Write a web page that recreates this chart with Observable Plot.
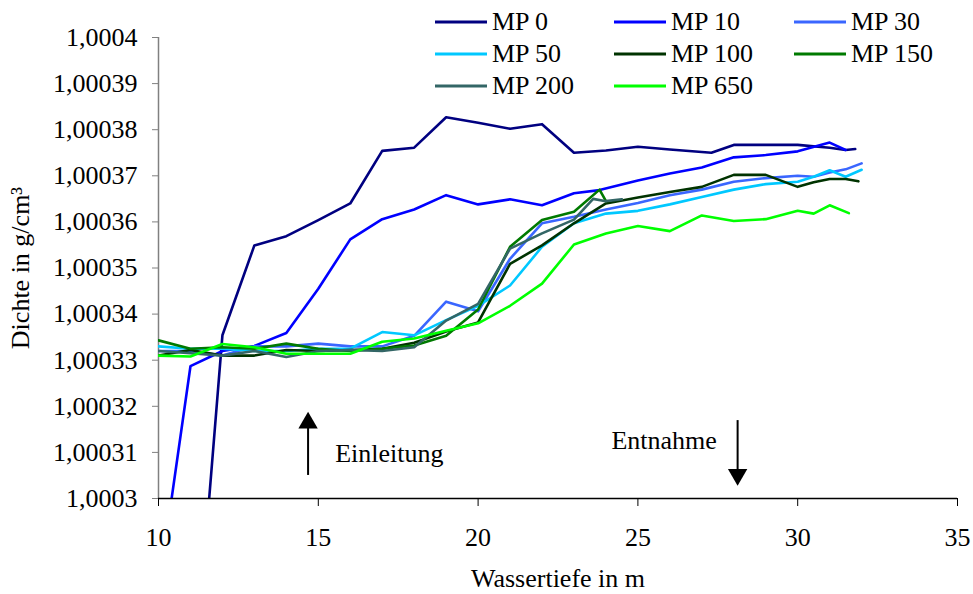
<!DOCTYPE html>
<html>
<head>
<meta charset="utf-8">
<script src="https://cdn.jsdelivr.net/npm/d3@7"></script>
<script src="https://cdn.jsdelivr.net/npm/@observablehq/plot@0.6"></script>
<style>
  html, body { margin: 0; padding: 0; background: #fff; }
  #wrap { position: relative; width: 973px; height: 594px; font-family: "Times New Roman", Times, Tinos, "Liberation Serif", "Nimbus Roman", "Nimbus Roman No9 L", FreeSerif, "Noto Serif", "DejaVu Serif", serif; }
  #legend { position: absolute; left: 435px; top: 6px; display: grid; grid-template-columns: 179px 180px auto; grid-auto-rows: 32px; font-size: 26px; color: #000; }
  .item { display: flex; align-items: center; }
  .item svg { margin-right: 5px; }
</style>
</head>
<body>
<div id="wrap"><div id="legend"></div></div>
<script>
const seriesNames = ["MP 0", "MP 10", "MP 30", "MP 50", "MP 100", "MP 150", "MP 200", "MP 650"];
const seriesColors = ["#000080", "#0000FF", "#3A66FF", "#00C8FF", "#003300", "#007A00", "#336666", "#00FF00"];

const mp0Depth = [11, 12, 13, 14, 15, 16, 17, 18, 19, 20, 21, 22, 23, 24, 25, 26, 27.3, 28, 29, 30, 31, 31.5, 31.8];
const mp0Density = [1.00025, 1.0003354, 1.0003549, 1.0003569, 1.0003604, 1.000364, 1.0003754, 1.0003761, 1.0003827, 1.0003815, 1.0003802, 1.0003812, 1.000375, 1.0003755, 1.0003763, 1.0003757, 1.000375, 1.0003767, 1.0003767, 1.0003767, 1.0003761, 1.0003756, 1.0003758];

const mp10Depth = [10, 11, 12, 13, 14, 15, 16, 17, 18, 19, 20, 21, 22, 23, 23.8, 25, 26, 27, 28, 29, 30, 31, 31.5];
const mp10Density = [1.00028, 1.0003287, 1.000332, 1.0003331, 1.0003359, 1.0003455, 1.0003562, 1.0003606, 1.0003627, 1.0003658, 1.0003638, 1.0003649, 1.0003636, 1.0003662, 1.0003669, 1.000369, 1.0003705, 1.0003718, 1.000374, 1.0003745, 1.0003753, 1.0003772, 1.0003756];

const mp30Depth = [10, 11, 12, 13, 14, 15, 16, 17, 18, 19, 20, 21, 22, 23, 24, 25, 26, 27, 28, 29, 30, 30.5, 31, 31.5, 32];
const mp30Density = [1.000332, 1.000332, 1.000331, 1.000333, 1.000333, 1.0003336, 1.000333, 1.000333, 1.0003353, 1.0003427, 1.0003406, 1.000352, 1.0003597, 1.0003611, 1.0003627, 1.0003641, 1.0003658, 1.000367, 1.0003687, 1.0003695, 1.00037, 1.0003698, 1.0003707, 1.0003714, 1.0003727];

const mp50Depth = [10, 11, 12, 13, 14, 15, 16, 17, 18, 19, 20, 21, 22, 23, 24, 25, 26, 27, 28, 29, 30, 30.5, 31, 31.5, 32];
const mp50Density = [1.000333, 1.0003325, 1.0003325, 1.000332, 1.000332, 1.0003325, 1.0003325, 1.0003361, 1.0003354, 1.0003387, 1.0003418, 1.0003462, 1.0003546, 1.0003597, 1.0003618, 1.0003624, 1.0003638, 1.0003654, 1.000367, 1.0003682, 1.0003687, 1.0003698, 1.0003712, 1.0003698, 1.0003713];

const mp100Depth = [10, 11, 12, 13, 14, 15, 16, 17, 18, 19, 20, 21, 22, 23, 24, 25, 26, 27, 28, 29, 30, 30.5, 31, 31.5, 31.9];
const mp100Density = [1.000331, 1.0003322, 1.000331, 1.000331, 1.0003322, 1.000332, 1.0003322, 1.0003325, 1.0003338, 1.0003362, 1.0003382, 1.0003509, 1.0003549, 1.0003597, 1.000364, 1.0003653, 1.0003665, 1.0003676, 1.0003702, 1.0003702, 1.0003676, 1.0003686, 1.0003693, 1.0003693, 1.0003688];

const mp150Depth = [10, 11, 12, 13, 14, 15, 16, 17, 18, 19, 20, 21, 22, 23, 23.8, 24];
const mp150Density = [1.0003343, 1.0003325, 1.0003328, 1.0003325, 1.0003336, 1.0003325, 1.000332, 1.0003325, 1.0003332, 1.0003353, 1.000341, 1.0003546, 1.0003604, 1.0003622, 1.000367, 1.0003645];

const mp200Depth = [10, 11, 12, 13, 14, 15, 16, 17, 18, 19, 20, 21, 22, 23, 23.6, 24, 24.5];
const mp200Density = [1.000332, 1.0003315, 1.000331, 1.000332, 1.0003307, 1.000332, 1.0003322, 1.000332, 1.0003328, 1.0003386, 1.0003422, 1.0003542, 1.0003575, 1.0003605, 1.000365, 1.0003645, 1.0003649];

const mp650Depth = [10, 11, 12, 13, 14, 15, 16, 17, 18, 19, 20, 21, 22, 23, 24, 25, 26, 27, 28, 29, 30, 30.5, 31, 31.6];
const mp650Density = [1.000331, 1.0003308, 1.0003335, 1.0003328, 1.0003314, 1.0003314, 1.0003314, 1.000334, 1.0003347, 1.0003364, 1.000338, 1.0003418, 1.0003466, 1.0003551, 1.0003575, 1.0003591, 1.000358, 1.0003614, 1.0003602, 1.0003606, 1.0003624, 1.0003618, 1.0003636, 1.0003619];

const xTicks = [10, 15, 20, 25, 30, 35];
const yTicks = [1.0003, 1.00031, 1.00032, 1.00033, 1.00034, 1.00035, 1.00036, 1.00037, 1.00038, 1.00039, 1.0004];

const arrowShafts = [
  {x: 14.68, y1: 1.000305, y2: 1.0003158},
  {x: 28.12, y1: 1.0003169, y2: 1.000306}
];
const arrowHeads = [
  {x: 14.68, y: 1.0003164, rotate: 0},
  {x: 28.12, y: 1.0003052, rotate: 180}
];
const noteIn = [{x: 15.53, y: 1.0003097, text: "Einleitung"}];
const noteOut = [{x: 25.82, y: 1.0003126, text: "Entnahme"}];

const seriesData = [
  [mp0Depth, mp0Density], [mp10Depth, mp10Density], [mp30Depth, mp30Density], [mp50Depth, mp50Density],
  [mp100Depth, mp100Density], [mp150Depth, mp150Density], [mp200Depth, mp200Density], [mp650Depth, mp650Density]
];
const rows = seriesData.flatMap(([ds, vs], i) => ds.map((d, j) => ({series: seriesNames[i], depth: d, density: vs[j]})));

const fmtY = d => d.toFixed(5).replace(/0+$/, "").replace(".", ",");
const serif = "'Times New Roman', Times, Tinos, 'Liberation Serif', 'Nimbus Roman', 'Nimbus Roman No9 L', FreeSerif, 'Noto Serif', 'DejaVu Serif', serif";

const chart = Plot.plot({
  width: 973,
  height: 594,
  marginLeft: 158,
  marginRight: 16,
  marginTop: 37,
  marginBottom: 96,
  style: {fontFamily: serif, fontSize: "26px", color: "#000", background: "#fff"},
  x: {domain: [10, 35]},
  y: {domain: [1.0003, 1.0004]},
  color: {domain: seriesNames, range: seriesColors},
  marks: [
    Plot.axisY({ticks: yTicks, tickFormat: fmtY, tickSize: 6, tickPadding: 15, stroke: "#808080", fontSize: 26,
      label: "Dichte in g/cm³", labelAnchor: "center", labelArrow: "none", labelOffset: 148}),
    Plot.axisX({ticks: xTicks, tickSize: 8, tickPadding: 21, stroke: "#000", fontSize: 26,
      label: "Wassertiefe in m", labelAnchor: "center", labelArrow: "none", labelOffset: 88}),
    Plot.ruleX([10], {stroke: "#808080", strokeWidth: 1.5}),
    Plot.line(rows, {x: "depth", y: "density", z: "series", stroke: "series", strokeWidth: 2.6, clip: true}),
    Plot.ruleY([1.0003], {stroke: "#000", strokeWidth: 1.5}),
    Plot.ruleX(arrowShafts, {x: "x", y1: "y1", y2: "y2", stroke: "#000", strokeWidth: 2}),
    Plot.dot(arrowHeads, {x: "x", y: "y", rotate: "rotate", symbol: "triangle", r: 7.2, fill: "#000", stroke: "none"}),
    Plot.text(noteIn, {x: "x", y: "y", text: "text", textAnchor: "start", fontSize: 26, fill: "#000"}),
    Plot.text(noteOut, {x: "x", y: "y", text: "text", textAnchor: "middle", fontSize: 26, fill: "#000"})
  ]
});

const wrap = document.getElementById("wrap");
wrap.insertBefore(chart, wrap.firstChild);

const legend = document.getElementById("legend");
seriesNames.forEach((name, i) => {
  const item = document.createElement("div");
  item.className = "item";
  item.innerHTML = `<svg width="52" height="6"><line x1="0" x2="52" y1="3" y2="3" stroke="${seriesColors[i]}" stroke-width="3"/></svg><span>${name}</span>`;
  legend.appendChild(item);
});
</script>
</body>
</html>
